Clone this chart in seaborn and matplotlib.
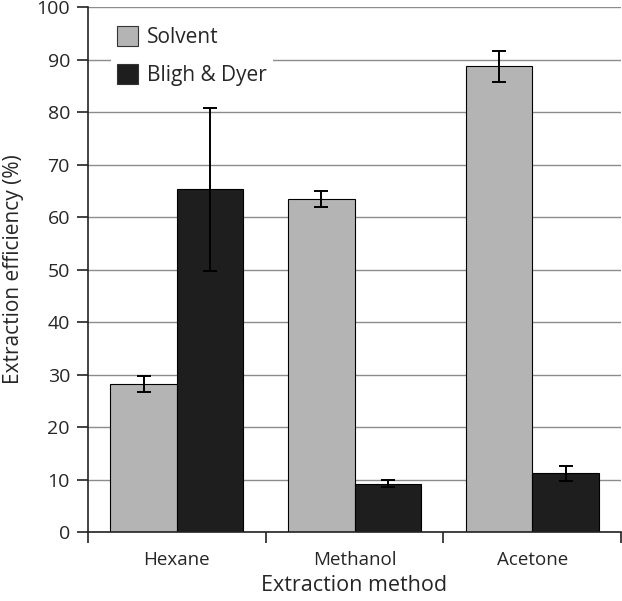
import matplotlib
matplotlib.use("Agg")
import matplotlib.pyplot as plt
import seaborn as sns
import pandas as pd
import numpy as np

categories = ["Hexane", "Methanol", "Acetone"]
methods = ["Solvent", "Bligh & Dyer"]
solvent_values = [28.2, 63.5, 88.7]
bligh_values = [65.3, 9.2, 11.2]
solvent_err = [1.5, 1.5, 3.0]
bligh_err = [15.5, 0.7, 1.4]
yticks = [0, 10, 20, 30, 40, 50, 60, 70, 80, 90, 100]

df = pd.DataFrame({
    "method": categories * 2,
    "type": [methods[0]] * 3 + [methods[1]] * 3,
    "value": solvent_values + bligh_values,
    "err": solvent_err + bligh_err,
})

sns.set_style("white")
plt.rcParams["font.family"] = ["Open Sans", "DejaVu Sans"]

fig = plt.figure(figsize=(6.22, 6.01), dpi=100)
ax = fig.add_axes([0.1415, 0.1148, 0.857, 0.8735])

palette = {methods[0]: "#b4b4b4", methods[1]: "#1e1e1e"}
sns.barplot(data=df, x="method", y="value", hue="type", order=categories,
            hue_order=methods, palette=palette, width=0.75, errorbar=None,
            edgecolor="black", linewidth=0.8, saturation=1, ax=ax, zorder=2)

# error bars positioned from the bar patches
for cont, m in zip(ax.containers, methods):
    sub = df[df["type"] == m].set_index("method").loc[categories]
    xs = [p.get_x() + p.get_width() / 2 for p in cont.patches]
    ax.errorbar(xs, sub["value"].values, yerr=sub["err"].values, fmt="none",
                ecolor="black", elinewidth=1.4, capsize=4.7, capthick=1.4, zorder=3)

ax.set_ylim(0, 100)
ax.set_xlim(-0.5, 2.5)
ax.set_yticks(yticks)
ax.set_yticklabels([str(t) for t in yticks], fontsize=14)
ax.yaxis.grid(True, color="#8c8c8c", linewidth=1.0, zorder=0)
ax.set_axisbelow(True)

ax.set_xticks(range(len(categories)))
ax.set_xticklabels(categories, fontsize=13.5)
ax.set_xticks([-0.5, 0.5, 1.5, 2.5], minor=True)
ax.tick_params(axis="x", which="major", length=0, pad=14)
ax.tick_params(axis="x", which="minor", length=8, width=1.2, color="#222222", direction="out", bottom=True)
ax.tick_params(axis="y", which="major", length=8, width=1.2, color="#222222", direction="out", left=True, pad=5)

for s in ["top", "right"]:
    ax.spines[s].set_visible(False)
for s in ["left", "bottom"]:
    ax.spines[s].set_color("#222222")
    ax.spines[s].set_linewidth(1.2)

ax.set_xlabel("Extraction method", fontsize=15.5, labelpad=4)
ax.set_ylabel("Extraction efficiency (%)", fontsize=15, labelpad=9)

leg = ax.legend(loc="upper left", bbox_to_anchor=(0.043, 0.975), borderaxespad=0,
                frameon=True, fontsize=15, handlelength=1.0, handleheight=1.1,
                labelspacing=0.75, handletextpad=0.45, borderpad=0.3)
leg.get_frame().set_edgecolor("none")
leg.get_frame().set_facecolor("white")
leg.get_frame().set_alpha(1)
for h in leg.legend_handles:
    h.set_edgecolor("#333333")

fig.savefig("out.png", dpi=100)
